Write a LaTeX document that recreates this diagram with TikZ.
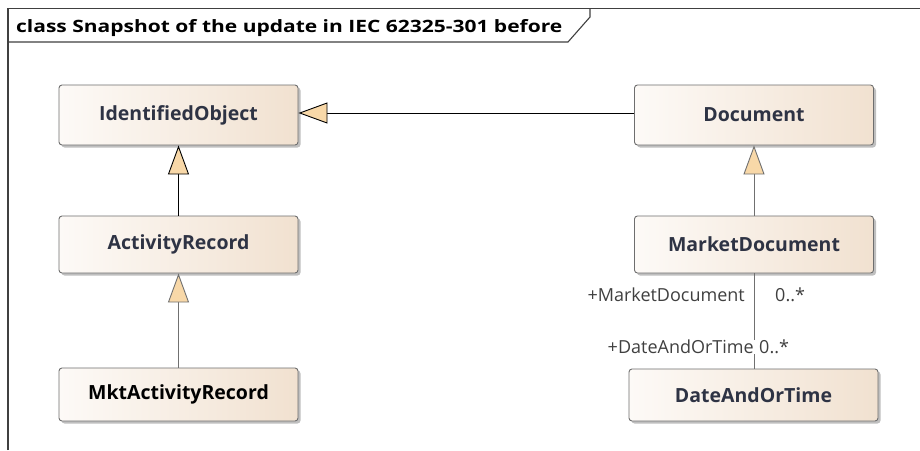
\documentclass[tikz,border=0pt]{standalone}
\usepackage{fontspec}
\setmainfont{Open Sans}
\usetikzlibrary{arrows.meta,shadows,positioning}
\definecolor{boxL}{HTML}{FDFAF7}
\definecolor{boxR}{HTML}{F1E1D0}
\definecolor{boxline}{HTML}{6E6E6E}
\definecolor{tri}{HTML}{F8D8A8}
\definecolor{txt}{HTML}{2E3344}
\definecolor{greyline}{HTML}{707070}
\definecolor{framec}{HTML}{404040}
\tikzset{
  cls/.style={draw=boxline, line width=0.9pt, rounded corners=3pt,
    left color=boxL, right color=boxR, shading angle=90,
    minimum width=239pt, minimum height=58pt, inner sep=0pt,
    font=\fontsize{19.5}{22}\selectfont\bfseries, text=txt,
    drop shadow={shadow xshift=2.5pt, shadow yshift=-2.5pt, fill=black, opacity=0.25}},
  genb/.style={line width=0.9pt, draw=black, -{Triangle[length=29pt, width=21pt, fill=tri]}},
  geng/.style={line width=0.9pt, draw=greyline, -{Triangle[length=29pt, width=21pt, fill=tri]}},
  assoc/.style={line width=0.9pt, draw=greyline},
  lbl/.style={font=\fontsize{18}{20}\selectfont, text=framec, inner sep=0pt},
  frameline/.style={draw=framec, line width=1.1pt}
}
\begin{document}
\begin{tikzpicture}[x=1pt,y=-1pt]
\useasboundingbox (0,0) rectangle (920,450);
\fill[white] (0,0) rectangle (920,450);
% frame
\draw[frameline] (8,450) -- (8,8.5) -- (920,8.5);
\draw[frameline] (8,42) -- (568,42) -- (590,17) -- (590,8.5);
\node[anchor=base west, inner sep=0pt, text=black] (title) at (16,32)
  {\resizebox{546pt}{\height}{\fontsize{17}{19}\selectfont\bfseries class Snapshot of the update in IEC 62325-301 before}};
% classes
\node[cls, minimum height=60pt] (io) at (178.5,115) {IdentifiedObject};
\node[cls, minimum height=60pt] (doc) at (754,115) {Document};
\node[cls, minimum height=57pt] (ar) at (178.5,244.5) {ActivityRecord};
\node[cls, minimum height=57pt] (md) at (754,244.5) {MarketDocument};
\node[cls, minimum height=53pt, text=black] (mar) at (178.5,394.5) {MktActivityRecord};
\node[cls, minimum height=52pt, minimum width=249pt] (dt) at (753.5,395) {DateAndOrTime};
% generalizations
\draw[genb] (doc.west |- 0,113) -- (io.east |- 0,113);
\draw[genb] (ar) -- (io);
\draw[geng] (mar) -- (ar);
\draw[geng] (md) -- (doc);
% association
\draw[assoc] (md) -- (md |- dt.north) coordinate (dtn);
\node[lbl, anchor=east] (r1) at (745,295) {+MarketDocument};
\node[lbl, anchor=west] (m1) at (775,295) {0..*};
\node[lbl, anchor=east, fill=white, inner xsep=1pt] (r2) at (755,347) {+DateAndOrTime};
\node[lbl, anchor=west] (m2) at (759,347) {0..*};
\end{tikzpicture}
\end{document}
